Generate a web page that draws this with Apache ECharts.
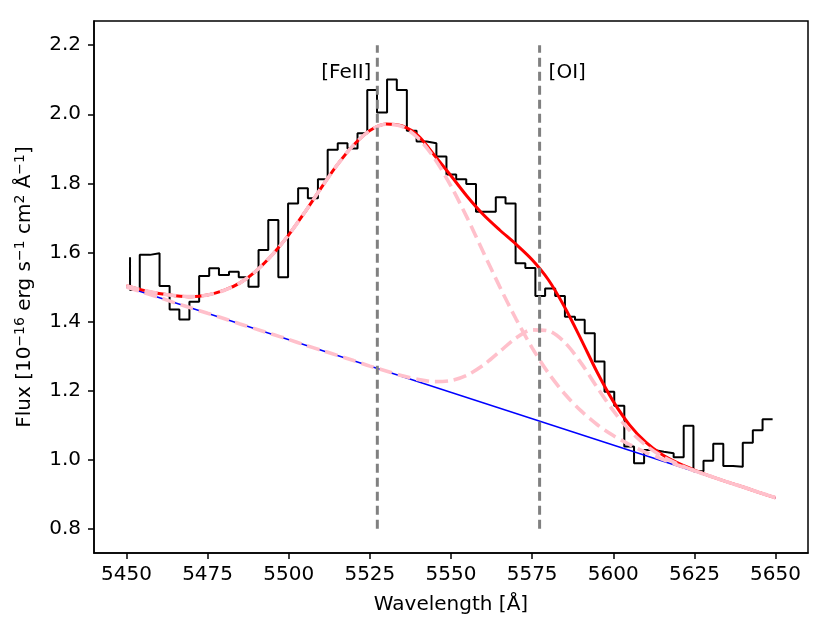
<!DOCTYPE html>
<html>
<head>
<meta charset="utf-8">
<script src="https://cdn.jsdelivr.net/npm/echarts@6/dist/echarts.min.js"></script>
<style>
html,body{margin:0;padding:0;background:#fff;}
#chart{width:830px;height:636px;}
</style>
</head>
<body>
<div id="chart"></div>
<script>
// Observed spectrum (histogram, steps-pre)
const wavelength = [5451.1,5454.1,5457.2,5460.2,5463.3,5466.3,5469.4,5472.4,5475.5,5478.5,5481.6,5484.6,5487.6,5490.7,5493.7,5496.8,5499.8,5502.9,5505.9,5509.0,5512.0,5515.1,5518.1,5521.2,5524.2,5527.2,5530.3,5533.3,5536.4,5539.4,5542.5,5545.5,5548.6,5551.6,5554.7,5557.7,5560.7,5563.8,5566.8,5569.9,5572.9,5576.0,5579.0,5582.1,5585.1,5588.2,5591.2,5594.3,5597.3,5600.3,5603.4,5606.4,5609.5,5612.5,5615.6,5618.6,5621.7,5624.7,5627.8,5630.8,5633.9,5636.9,5639.9,5643.0,5646.0,5649.1];
const flux = [1.586,1.491,1.593,1.598,1.503,1.435,1.406,1.457,1.532,1.554,1.535,1.544,1.528,1.501,1.607,1.694,1.528,1.742,1.786,1.757,1.812,1.897,1.916,1.901,1.945,2.070,2.005,2.101,2.070,1.952,1.921,1.916,1.878,1.826,1.812,1.798,1.718,1.718,1.760,1.742,1.569,1.555,1.474,1.496,1.474,1.414,1.405,1.366,1.284,1.197,1.156,1.038,0.990,1.028,1.023,1.019,1.007,1.098,0.967,0.997,1.046,0.982,0.980,1.049,1.085,1.117];

// Model curves
const modelWave = [5450,5455,5460,5465,5470,5475,5480,5485,5490,5495,5500,5505,5510,5515,5520,5525,5530,5535,5540,5545,5550,5555,5560,5565,5570,5575,5580,5585,5590,5595,5600,5605,5610,5615,5620,5625,5630,5635,5640,5645,5650];
const feiiPlusCont = [1.504,1.491,1.481,1.475,1.472,1.477,1.490,1.512,1.547,1.594,1.651,1.717,1.787,1.854,1.911,1.953,1.971,1.964,1.930,1.871,1.792,1.700,1.600,1.501,1.408,1.324,1.251,1.191,1.142,1.102,1.070,1.044,1.021,1.002,0.984,0.968,0.952,0.936,0.921,0.905,0.890];
const oiPlusCont = [1.500,1.485,1.470,1.454,1.439,1.424,1.409,1.393,1.378,1.363,1.348,1.332,1.317,1.302,1.287,1.271,1.257,1.243,1.232,1.226,1.229,1.245,1.274,1.313,1.352,1.376,1.373,1.340,1.281,1.210,1.142,1.085,1.042,1.010,0.987,0.968,0.952,0.936,0.921,0.905,0.890];
const totalFit = [1.504,1.491,1.481,1.475,1.472,1.477,1.490,1.512,1.547,1.594,1.651,1.717,1.787,1.854,1.911,1.953,1.972,1.966,1.937,1.880,1.822,1.762,1.709,1.665,1.624,1.579,1.521,1.442,1.350,1.254,1.169,1.101,1.051,1.015,0.990,0.970,0.952,0.936,0.921,0.905,0.890];
const continuumWave = [5450, 5650];
const continuumFlux = [1.500, 0.890];

// Line markers
const lineNames = ['[FeII]', '[OI]'];
const lineWaves = [5527.3, 5577.3];
const lineYRange = [0.8, 2.2];
const lineLabelY = 2.12;

// Ticks
const xTicks = [5450,5475,5500,5525,5550,5575,5600,5625,5650];
const yTicks = [0.8,1.0,1.2,1.4,1.6,1.8,2.0,2.2];

const zip = (a, b) => a.map((v, i) => [v, b[i]]);
const FONT = 'DejaVu Sans';
const FS = 20;

const chart = echarts.init(document.getElementById('chart'), null, {renderer: 'canvas'});

const series = [
  {
    type: 'line', data: zip(wavelength, flux), step: 'start',
    showSymbol: false, lineStyle: {color: '#000', width: 2}, z: 2, silent: true
  },
  {
    type: 'line', data: zip(continuumWave, continuumFlux),
    showSymbol: false, lineStyle: {color: '#0000ff', width: 1.4}, z: 3, silent: true
  },
  {
    type: 'line', data: zip(modelWave, totalFit), smooth: 0.3,
    showSymbol: false, lineStyle: {color: '#ff0000', width: 3}, z: 4, silent: true
  },
  {
    type: 'line', data: zip(modelWave, feiiPlusCont), smooth: 0.3,
    showSymbol: false, lineStyle: {color: '#ffc0cb', width: 3.6, type: [13, 6]}, z: 5, silent: true
  },
  {
    type: 'line', data: zip(modelWave, oiPlusCont), smooth: 0.3,
    showSymbol: false, lineStyle: {color: '#ffc0cb', width: 3.6, type: [13, 6]}, z: 5, silent: true
  }
];

lineWaves.forEach((w, i) => {
  series.push({
    type: 'line', data: [[w, lineYRange[0]], [w, lineYRange[1]]],
    showSymbol: false, lineStyle: {color: '#808080', width: 3, type: [9, 5]}, z: 6, silent: true
  });
  series.push({
    type: 'scatter', data: [[w, lineLabelY]], symbolSize: 0, z: 7, silent: true,
    itemStyle: {opacity: 1},
    label: {
      show: true, formatter: lineNames[i],
      position: i === 0 ? 'left' : 'right', distance: i === 0 ? 6 : 9,
      color: '#000', opacity: 1, fontFamily: FONT, fontSize: FS
    }
  });
});

chart.setOption({
  animation: false,
  backgroundColor: '#fff',
  grid: {
    left: 94, right: 22, top: 21, bottom: 83,
    show: true, borderColor: '#000', borderWidth: 1.5, backgroundColor: 'transparent'
  },
  xAxis: {
    type: 'value', min: 5440, max: 5660,
    name: 'Wavelength [Å]', nameLocation: 'middle', nameGap: 42,
    nameTextStyle: {color: '#000', fontFamily: FONT, fontSize: FS},
    axisLine: {show: true, onZero: false, lineStyle: {color: '#000', width: 1.5}},
    axisTick: {show: true, customValues: xTicks, length: 6, lineStyle: {color: '#000', width: 1.5}},
    axisLabel: {customValues: xTicks, margin: 12, color: '#000', fontFamily: FONT, fontSize: FS,
      formatter: v => String(Math.round(v))},
    splitLine: {show: false}
  },
  yAxis: {
    type: 'value', min: 0.73, max: 2.27,
    name: 'Flux [10{sup|−16} erg s{sup|−1} cm{sup|2} Å{sup|−1}]',
    nameLocation: 'middle', nameGap: 58, nameRotate: 90,
    nameTextStyle: {
      color: '#000', fontFamily: FONT, fontSize: FS, lineHeight: 23,
      rich: {sup: {fontSize: 14, lineHeight: 14, verticalAlign: 'top', fontFamily: FONT, color: '#000'}}
    },
    axisLine: {show: true, onZero: false, lineStyle: {color: '#000', width: 1.5}},
    axisTick: {show: true, customValues: yTicks, length: 6, lineStyle: {color: '#000', width: 1.5}},
    axisLabel: {customValues: yTicks, margin: 13, color: '#000', fontFamily: FONT, fontSize: FS,
      formatter: v => Number(v).toFixed(1)},
    splitLine: {show: false}
  },
  series: series
});
</script>
</body>
</html>
